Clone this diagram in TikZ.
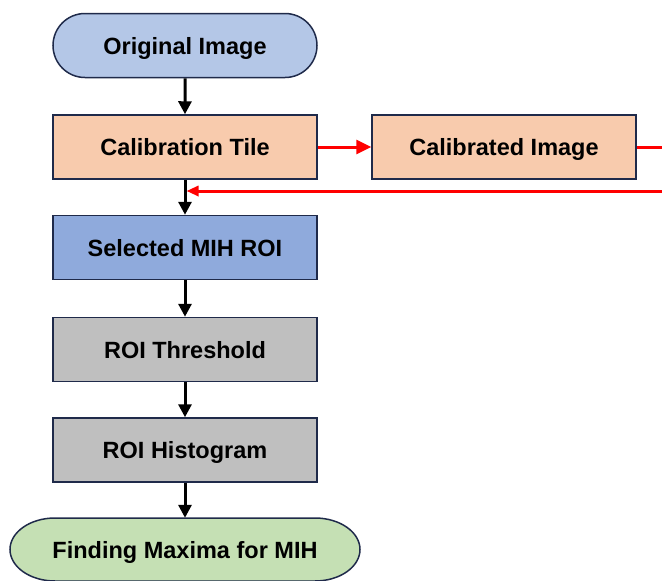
\documentclass[tikz,border=0pt]{standalone}
\usepackage{fontspec}
\setmainfont{Liberation Sans}
\usetikzlibrary{arrows.meta,shapes.misc}
\definecolor{edgec}{HTML}{1F2A4A}
\definecolor{blueA}{HTML}{B4C7E7}
\definecolor{peach}{HTML}{F8CBAD}
\definecolor{blueB}{HTML}{8FAADC}
\definecolor{grayA}{HTML}{BFBFBF}
\definecolor{greenA}{HTML}{C5E0B4}
\definecolor{redA}{HTML}{FF0000}
\begin{document}
\begin{tikzpicture}[x=1pt,y=-1pt,
  txt/.style={font=\fontsize{23.5}{27}\selectfont\bfseries,text height=17pt,text depth=0pt,inner sep=0pt},
  box/.style={txt,draw=edgec,line width=1.5pt,minimum width=264pt,minimum height=64pt},
  term/.style={box,rounded rectangle,rounded rectangle arc length=180},
  blk/.style={line width=3pt,-{Triangle[length=13pt,width=13pt]}},
  redl/.style={line width=3pt,draw=redA},
  reda/.style={redl,-{Triangle[length=15pt,width=14pt]}}]
\useasboundingbox (0,0) rectangle (662,581);
\node[term,fill=blueA] (orig) at (185,45.5) {Original Image};
\node[box,fill=peach] (calt) at (185,147) {Calibration Tile};
\node[box,fill=peach] (cali) at (504,147) {Calibrated Image};
\node[box,fill=blueB] (sel) at (185,247.5) {Selected MIH ROI};
\node[box,fill=grayA] (thr) at (185,349.5) {ROI Threshold};
\node[box,fill=grayA] (his) at (185,450) {ROI Histogram};
% final terminal with elliptical ends
\draw[draw=edgec,line width=1.5pt,fill=greenA]
  (55,518) -- (315,518) arc[start angle=-90,end angle=90,x radius=45,y radius=31.5]
  -- (55,581) arc[start angle=90,end angle=270,x radius=45,y radius=31.5] -- cycle;
\node[txt,minimum width=350pt,minimum height=63pt] (fin) at (185,549.5) {Finding Maxima for MIH};
\coordinate (r1) at (663,147);
\coordinate (r2) at (663,191);
\coordinate (j) at (185,191);
\draw[blk] (orig) -- (calt);
\draw[blk] (calt) -- (sel);
\draw[blk] (sel) -- (thr);
\draw[blk] (thr) -- (his);
\draw[blk] (his) -- (fin);
\draw[reda] (calt) -- (cali);
\draw[redl] (cali) -- (r1);
\draw[redl,-{Triangle[length=12pt,width=10pt]}] (r2) -- ([xshift=1.5pt]j);
\end{tikzpicture}
\end{document}
